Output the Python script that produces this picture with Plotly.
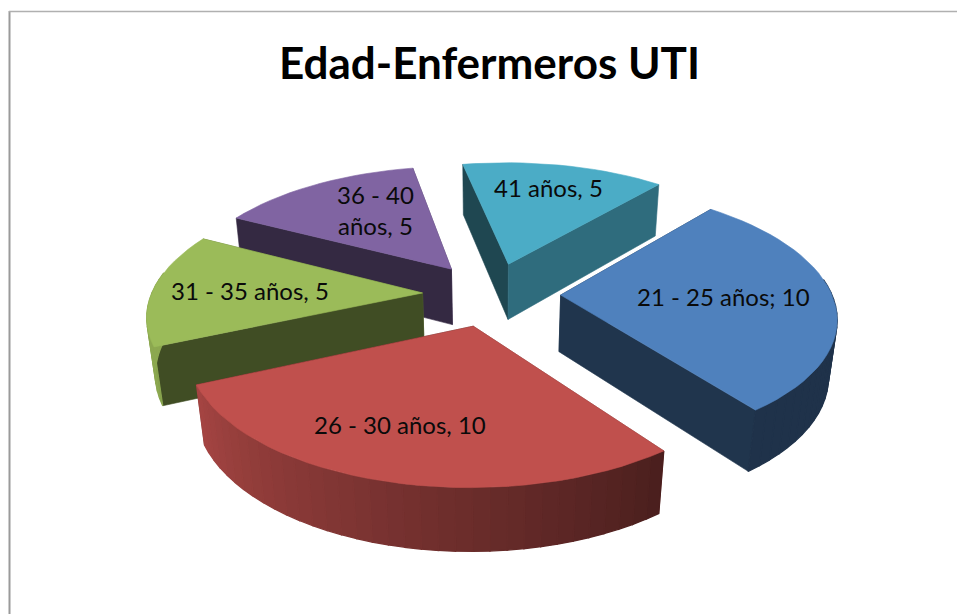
import numpy as np
import plotly.graph_objects as go

# ---- data ----
title = "Edad-Enfermeros UTI"
categories = ["41 años", "21 - 25 años", "26 - 30 años", "31 - 35 años", "36 - 40 años"]
values = [5, 10, 10, 5, 5]
label_texts = ["41 años, 5", "21 - 25 años; 10", "26 - 30 años, 10", "31 - 35 años, 5", "36 - 40<br>años, 5"]
colors = ["#4BACC6", "#4F81BD", "#C0504D", "#9BBB59", "#8064A2"]
label_xy = [(548, 187), (723, 296), (400, 424), (250, 290), (375, 210)]

# ---- projection of the exploded 3D pie ----
CX, CY = 491.5, 294.0
A, B, H = 271.0, 125.5, 58.0
PERSP, DEPTHP = 0.154, 0.025
EXPLODE = 0.255
START = 349.0


def project(u, v, z=0.0):
    s = 1.0 / (1.0 - PERSP * v + DEPTHP * z)
    return CX + A * u * s, CY + (B * v + H * z) * s


def shade(hex_color, f):
    r, g, b = (int(hex_color[i:i + 2], 16) for i in (1, 3, 5))
    return f"rgb({r * f:.0f},{g * f:.0f},{b * f:.0f})"


def arc_shade(deg):
    d = deg % 360
    if d < 142:
        return 0.39
    if d > 250:
        return 0.9
    return 0.38 + (d - 142) / (250 - 142) * 0.5


fig = go.Figure()


def poly(xs, ys, color, name, width=0.6):
    fig.add_trace(go.Scatter(x=xs, y=ys, mode="lines", fill="toself", fillcolor=color,
                             line=dict(color=color, width=width), hoverinfo="text",
                             text=name, showlegend=False))


total = sum(values)
edges = START + np.concatenate([[0], np.cumsum(values)]) * 360.0 / total
slices = []
for i, val in enumerate(values):
    a0, a1 = edges[i], edges[i + 1]
    mid = np.radians((a0 + a1) / 2)
    ou, ov = EXPLODE * np.sin(mid), -EXPLODE * np.cos(mid)
    slices.append((ov, i, a0, a1, ou))

# far slices are painted first; the nearest is last
for ov, i, a0, a1, ou in sorted(slices, key=lambda t: t[0]):
    name = f"{categories[i]}: {values[i]}"
    col = colors[i]
    n = max(int((a1 - a0) / 3.0), 4)
    th = np.linspace(a0, a1, n + 1)
    rad = np.radians(th)
    us, vs = ou + np.sin(rad), ov - np.cos(rad)

    faces = []
    # radial faces: the normal direction decides the shade
    for u_end, v_end, normal in ((us[0], vs[0], a0 - 90), (us[-1], vs[-1], a1 + 90)):
        psi = normal % 360
        f = 0.63 if psi < 140 else 0.41
        p = [project(ou, ov, 0), project(u_end, v_end, 0), project(u_end, v_end, 1), project(ou, ov, 1)]
        faces.append(((ov + v_end) / 2, [q[0] for q in p], [q[1] for q in p], shade(col, f), 0.6))
    # outer wall in narrow quads, so its shade can vary along the arc
    arc_faces = []
    for k in range(n):
        if np.cos(np.radians((th[k] + th[k + 1]) / 2)) > 0.15:
            continue  # faces away from the viewer
        p = [project(us[k], vs[k], 0), project(us[k + 1], vs[k + 1], 0),
             project(us[k + 1], vs[k + 1], 1), project(us[k], vs[k], 1)]
        arc_faces.append((10.0, [q[0] for q in p], [q[1] for q in p],
                          shade(col, arc_shade((th[k] + th[k + 1]) / 2)), 1.3))
    for _, xs, ys, c, w in sorted(faces, key=lambda t: t[0]) + arc_faces:
        poly(xs + xs[:1], ys + ys[:1], c, name, w)
    # top surface
    tx, ty = project(ou, ov, 0)
    ax, ay = project(us, vs, 0)
    poly([tx] + list(ax) + [tx], [ty] + list(ay) + [ty], col, name)

annotations = [dict(x=x, y=y, text=t, showarrow=False, xref="x", yref="y",
                    font=dict(family="Lato, Carlito, sans-serif", size=24, color="#0a0a0a"))
               for t, (x, y) in zip(label_texts, label_xy)]
annotations.append(dict(x=489, y=62, text=f"<b>{title}</b>", showarrow=False, xref="x", yref="y",
                        font=dict(family="Lato, Carlito, sans-serif", size=44, color="#000000")))

fig.update_layout(
    width=957, height=614, margin=dict(l=0, r=0, t=0, b=0),
    paper_bgcolor="white", plot_bgcolor="white", showlegend=False,
    xaxis=dict(range=[0, 957], visible=False, fixedrange=True),
    yaxis=dict(range=[614, 0], visible=False, fixedrange=True),
    annotations=annotations,
    shapes=[
        dict(type="line", xref="x", yref="y", x0=9.5, x1=9.5, y0=11, y1=614,
             line=dict(color="#9a9a9a", width=2)),
        dict(type="line", xref="x", yref="y", x0=9, x1=957, y0=11.5, y1=11.5,
             line=dict(color="#b0b0b0", width=1.5)),
    ],
)
fig.write_html("out.html", config=dict(displayModeBar=False),
               post_script="document.body.style.margin='0';")
